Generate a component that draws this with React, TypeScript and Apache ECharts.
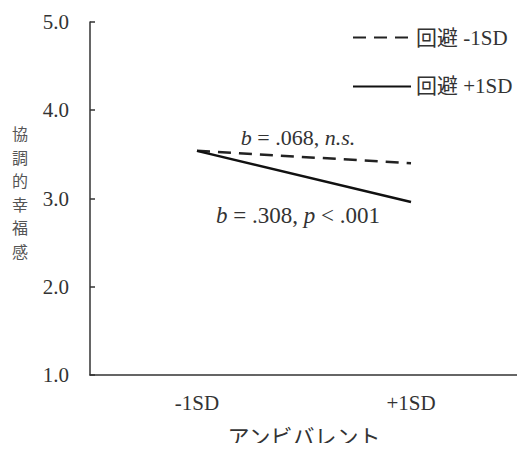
import React, { useEffect, useRef } from "react";
import * as echarts from "echarts";

const categories = ["-1SD", "+1SD"];
const seriesNames = ["回避 -1SD", "回避 +1SD"];
const lowAvoid = [3.54, 3.4];
const highAvoid = [3.54, 2.96];
const yTicks = [1, 2, 3, 4, 5];
const yAxisTitle = "協調的幸福感";
const xAxisTitle = "アンビバレント";

const SERIF = "Liberation Serif";
const MIXED = "Liberation Serif, Noto Sans CJK JP";
const CJK = "Noto Sans CJK JP";

export default function App() {
  const ref = useRef<HTMLDivElement>(null);
  useEffect(() => {
    if (!ref.current) return;
    const chart = echarts.init(ref.current, undefined, { renderer: "svg" });
    const titleChars = yAxisTitle.split("");
    const pitch = 23.5;
    const titleTop = 192 - ((titleChars.length - 1) * pitch) / 2;
    chart.setOption({
      animation: false,
      backgroundColor: "#ffffff",
      grid: { left: 90, right: 7, top: 22, bottom: 74 },
      legend: {
        orient: "vertical",
        left: 347,
        top: 22,
        itemWidth: 58,
        itemHeight: 16,
        itemGap: 28,
        data: seriesNames,
        itemStyle: { opacity: 0 },
        textStyle: { fontFamily: MIXED, fontSize: 21, color: "#333" },
      },
      xAxis: {
        type: "category",
        data: categories,
        boundaryGap: true,
        axisLine: { lineStyle: { color: "#333", width: 1.5 } },
        axisTick: { inside: true, length: 5, lineStyle: { color: "#333", width: 1.5 } },
        axisLabel: { margin: 18, fontFamily: SERIF, fontSize: 21, color: "#333" },
        name: xAxisTitle,
        nameLocation: "middle",
        nameGap: 49,
        nameTextStyle: { fontFamily: CJK, fontSize: 22, color: "#333" },
      },
      yAxis: {
        type: "value",
        min: yTicks[0],
        max: yTicks[yTicks.length - 1],
        interval: 1,
        splitLine: { show: false },
        axisLine: { show: true, lineStyle: { color: "#333", width: 1.5 } },
        axisTick: { show: true, inside: true, length: 5, lineStyle: { color: "#333", width: 1.5 } },
        axisLabel: {
          margin: 21,
          fontFamily: SERIF,
          fontSize: 21,
          color: "#333",
          formatter: (v: number) => v.toFixed(1),
        },
      },
      graphic: [
        ...titleChars.map((c, i) => ({
          type: "text",
          x: 20,
          y: titleTop + i * pitch,
          style: {
            text: c,
            fontFamily: CJK,
            fontSize: 16,
            lineHeight: 16,
            fill: "#555",
            align: "center",
            verticalAlign: "middle",
          },
        })),
        {
          type: "text",
          x: 298,
          y: 137,
          style: {
            text: "{i|b} = .068, {i|n.s.}",
            fontFamily: SERIF,
            fontSize: 22,
            fill: "#333",
            align: "center",
            verticalAlign: "middle",
            rich: { i: { fontStyle: "italic", fontFamily: SERIF, fontSize: 22, fill: "#333" } },
          },
        },
        {
          type: "text",
          x: 298,
          y: 215,
          style: {
            text: "{i|b} = .308, {i|p} < .001",
            fontFamily: SERIF,
            fontSize: 23,
            fill: "#333",
            align: "center",
            verticalAlign: "middle",
            rich: { i: { fontStyle: "italic", fontFamily: SERIF, fontSize: 23, fill: "#333" } },
          },
        },
      ],
      series: [
        {
          name: seriesNames[0],
          type: "line",
          data: lowAvoid,
          symbol: "none",
          lineStyle: { color: "#222", width: 2.5, type: [13, 8] },
          itemStyle: { color: "#222" },
        },
        {
          name: seriesNames[1],
          type: "line",
          data: highAvoid,
          symbol: "none",
          lineStyle: { color: "#111", width: 2.5, type: "solid" },
          itemStyle: { color: "#111" },
        },
      ],
    });
    return () => chart.dispose();
  }, []);
  return <div ref={ref} style={{ width: 525, height: 451, margin: -8 }} />;
}
